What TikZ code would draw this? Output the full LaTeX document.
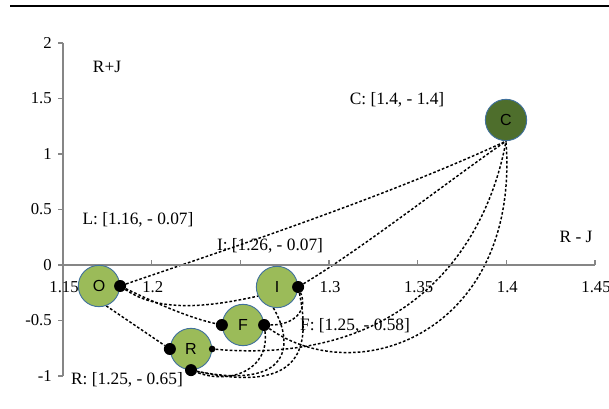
\documentclass[tikz,border=0pt]{standalone}
\usepackage{fontspec}
\setmainfont{Liberation Serif}
\setsansfont{Liberation Sans}
\usepackage{xcolor}
\usetikzlibrary{positioning, backgrounds}

\definecolor{leafgreen}{HTML}{9BBB59}
\definecolor{darkleaf}{HTML}{4E6E2C}
\definecolor{ringblue}{HTML}{41719C}
\definecolor{axisgray}{HTML}{868686}

\begin{document}
\begin{tikzpicture}[x=0.75pt, y=-0.75pt,
    factor/.style={circle, draw=ringblue, line width=0.7pt, fill=leafgreen,
      minimum size=31pt, inner sep=0pt, font=\sffamily\fontsize{12}{12}\selectfont},
    dot/.style={circle, fill=black, minimum size=9pt, inner sep=0pt},
    smalldot/.style={dot, minimum size=5pt},
    link/.style={line width=1.1pt, dash pattern=on 2pt off 1.5pt},
    tag/.style={inner sep=0pt, font=\fontsize{13}{14}\selectfont},
    num/.style={inner sep=0pt, font=\fontsize{12.5}{14}\selectfont}]
    \useasboundingbox (0,0) rectangle (609,409);
    % Rule on top
    \draw[line width=1.6pt] (10,6) -- (609,6);
    % Axes
    \draw[axisgray, line width=1.1pt] (63,43) -- (63,376);
    \draw[axisgray, line width=1.1pt] (63,265) -- (595,265);
    % Ticks
    \foreach \i in {0,...,6}
        \draw[axisgray, line width=0.8pt] (63+88.67*\i,265) -- (63+88.67*\i,260);
    \foreach \i in {0,...,6}
        \draw[axisgray, line width=0.8pt] (58,43+55.5*\i) -- (63,43+55.5*\i);
    % Label x and y axes
    \foreach \v/\i in {1.15/0, 1.2/1, 1.3/3, 1.35/4, 1.4/5, 1.45/6}
        \node[num] at (64+88.67*\i,287) {\v};
    \foreach \v/\i in {2/0, 1.5/1, 1/2, 0.5/3, 0/4, -0.5/5, -1/6}
        \node[num, anchor=east] at (52,43+55.5*\i) {\v};
    \node[tag] (sumaxis) at (107,67) {R+J};
    \node[tag] (diffaxis) at (576,237) {R - J};
    % Factors
    \node[factor] (O) at (99,286) {O};
    \node[factor] (I) at (277,287) {I};
    \node[factor] (F) at (243,325) {F};
    \node[factor] (R) at (191,349) {R};
    \node[factor, fill=darkleaf] (C) at (506,120) {C};
    % Joints
    \node[dot] (odot) at (O.east) {};
    \node[dot] (idot) at (I.east) {};
    \node[dot] (fleft) at (F.west) {};
    \node[dot] (fright) at (F.east) {};
    \node[dot] (rleft) at (R.west) {};
    \node[dot] (rbottom) at (R.south) {};
    \node[smalldot] (rright) at (R.east) {};
    % Coordinates
    \node[tag] (ctag) at (397,100) {C: [1.4, - 1.4]};
    \node[tag] (ltag) at (138,220) {L: [1.16, - 0.07]};
    \node[tag] (itag) at (270,246) {I: [1.26, - 0.07]};
    \node[tag] (ftag) at (355,326) {F: [1.25, - 0.58]};
    \node[tag] (rtag) at (127,380) {R: [1.25, - 0.65]};
    % Links
    \begin{pgfonlayer}{background}
        \draw[link] (odot) .. controls (240,245) and (390,195) .. (C.south);
        \draw[link] (idot) .. controls (360,250) and (450,180) .. (C.south);
        \draw[link] (rright) .. controls (400,365) and (485,255) .. (C.south);
        \draw[link] (fright) .. controls (360,392) and (520,330) .. (C.south);
        \draw[link] (odot) .. controls (160,305) and (190,318) .. (fleft);
        \draw[link] (odot) .. controls (170,320) and (240,300) .. (idot);
        \draw[link] (O.-70) -- (rleft);
        \draw[link] (fright) .. controls (295,325) and (308,310) .. (idot);
        \draw[link] (fright) .. controls (270,370) and (230,385) .. (rbottom);
        \draw[link] (idot) .. controls (310,345) and (305,395) .. (rbottom);
        \draw[link] (I.-100) .. controls (295,345) and (290,390) .. (rbottom);
    \end{pgfonlayer}
\end{tikzpicture}
\end{document}
